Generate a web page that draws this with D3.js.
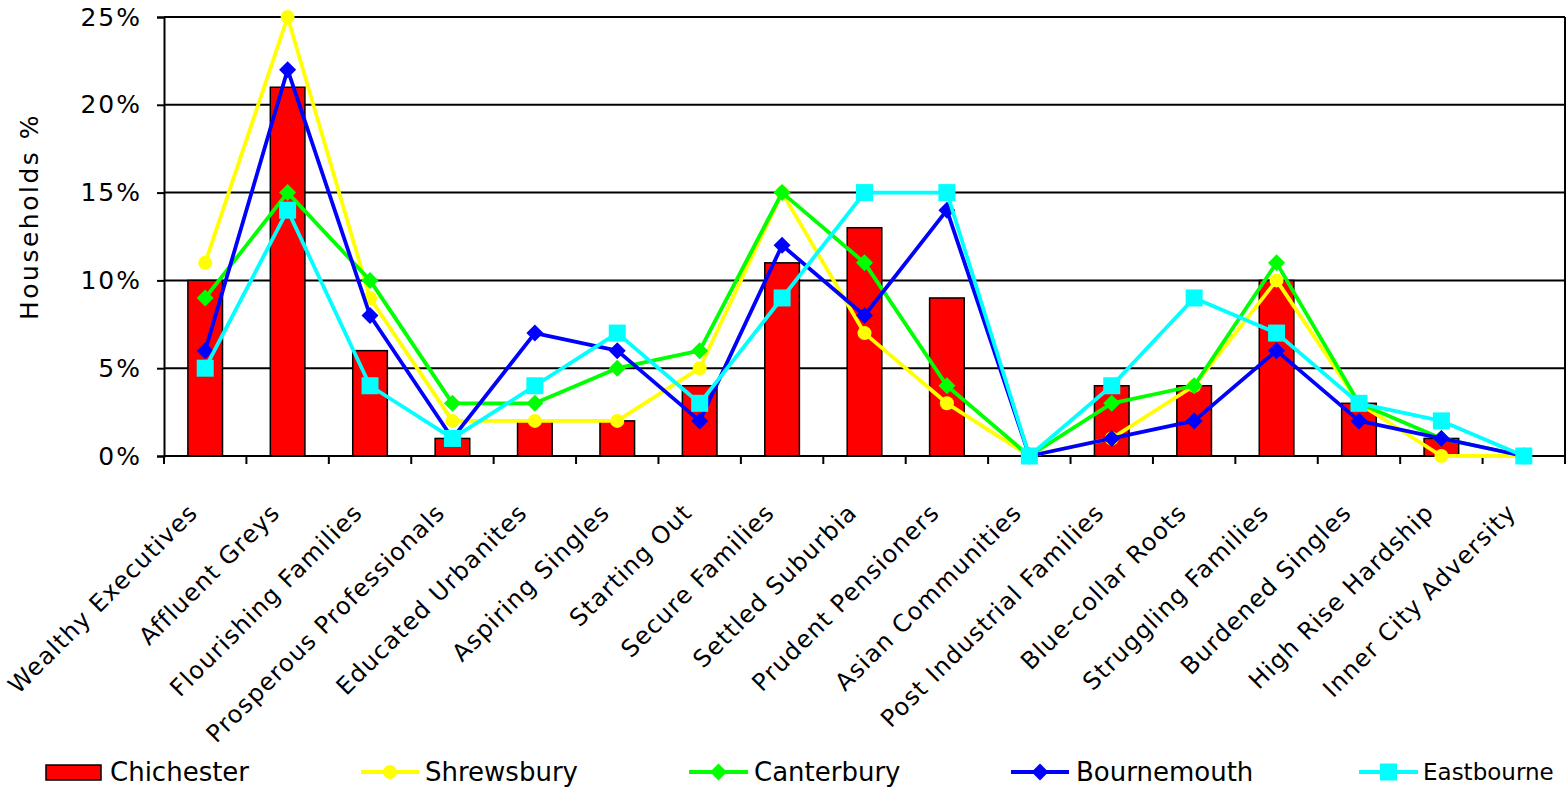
<!DOCTYPE html>
<html>
<head>
<meta charset="utf-8">
<script src="https://cdn.jsdelivr.net/npm/d3@7"></script>
<style>
  html, body { margin: 0; padding: 0; background: #fff; }
  svg { display: block; font-family: "DejaVu Sans", Verdana, sans-serif; }
</style>
</head>
<body>
<svg id="chart" width="1568" height="789"></svg>
<script>
// Household classification groups
const categories = [
  "Wealthy Executives", "Affluent Greys", "Flourishing Families", "Prosperous Professionals",
  "Educated Urbanites", "Aspiring Singles", "Starting Out", "Secure Families",
  "Settled Suburbia", "Prudent Pensioners", "Asian Communities", "Post Industrial Families",
  "Blue-collar Roots", "Struggling Families", "Burdened Singles", "High Rise Hardship",
  "Inner City Adversity"
];

// Share of households (%) per group
const chichester  = [10, 21, 6, 1, 2, 2, 4, 11, 13, 9, 0, 4, 4, 10, 3, 1, 0];
const shrewsbury  = [11, 25, 9, 2, 2, 2, 5, 15, 7, 3, 0, 1, 4, 10, 3, 0, 0];
const canterbury  = [9, 15, 10, 3, 3, 5, 6, 15, 11, 4, 0, 3, 4, 11, 3, 1, 0];
const bournemouth = [6, 22, 8, 1, 7, 6, 2, 12, 8, 14, 0, 1, 2, 6, 2, 1, 0];
const eastbourne  = [5, 14, 4, 1, 4, 7, 3, 9, 15, 15, 0, 4, 9, 7, 3, 2, 0];

const yTicks = [0, 5, 10, 15, 20, 25];

const lineSeries = [
  { name: "Shrewsbury",  values: shrewsbury,  color: "#ffff00", symbol: "circle" },
  { name: "Canterbury",  values: canterbury,  color: "#00ff00", symbol: "diamond" },
  { name: "Bournemouth", values: bournemouth, color: "#0000ff", symbol: "diamond" },
  { name: "Eastbourne",  values: eastbourne,  color: "#00ffff", symbol: "square" }
];

const svg = d3.select("#chart");
const plot = { left: 164, right: 1565, top: 17, bottom: 456 };

const x = d3.scaleBand().domain(categories).range([plot.left, plot.right]).paddingInner(0).paddingOuter(0);
const y = d3.scaleLinear().domain([0, 25]).range([plot.bottom, plot.top]);

// Horizontal gridlines
svg.append("g").selectAll("line").data(yTicks.filter(t => t > 0)).join("line")
  .attr("x1", plot.left).attr("x2", plot.right)
  .attr("y1", d => y(d)).attr("y2", d => y(d))
  .attr("stroke", "#000").attr("stroke-width", 2);

// Right border of the plot area
svg.append("line")
  .attr("x1", plot.right).attr("x2", plot.right)
  .attr("y1", plot.top).attr("y2", plot.bottom)
  .attr("stroke", "#000").attr("stroke-width", 2);

// Chichester bars
const barW = x.bandwidth() * 0.42;
svg.append("g").selectAll("rect").data(categories).join("rect")
  .attr("x", d => x(d) + (x.bandwidth() - barW) / 2)
  .attr("y", (d, i) => y(chichester[i]))
  .attr("width", barW)
  .attr("height", (d, i) => y(0) - y(chichester[i]))
  .attr("fill", "#ff0000").attr("stroke", "#000").attr("stroke-width", 1.5);

// Y axis
const yAxis = d3.axisLeft(y).tickValues(yTicks).tickSize(7).tickPadding(15).tickFormat(d => d + "%");
const gy = svg.append("g").attr("transform", `translate(${plot.left},0)`).call(yAxis);
gy.select(".domain").attr("stroke", "#000").attr("stroke-width", 2);
gy.selectAll(".tick line").attr("stroke", "#000").attr("stroke-width", 2);
gy.selectAll(".tick text").attr("font-size", 25).attr("letter-spacing", 2).attr("fill", "#000")
  .attr("font-family", "DejaVu Sans, Verdana, sans-serif");

// X axis: ticks sit on the category boundaries
const boundaries = d3.range(categories.length + 1).map(i => plot.left + i * x.step());
svg.append("line")
  .attr("x1", plot.left).attr("x2", plot.right)
  .attr("y1", plot.bottom).attr("y2", plot.bottom)
  .attr("stroke", "#000").attr("stroke-width", 2);
svg.append("g").selectAll("line").data(boundaries).join("line")
  .attr("x1", d => d).attr("x2", d => d)
  .attr("y1", plot.bottom).attr("y2", plot.bottom + 8)
  .attr("stroke", "#000").attr("stroke-width", 2);

// Rotated category labels
svg.append("g").selectAll("text").data(categories).join("text")
  .attr("transform", d => `translate(${x(d) + x.bandwidth() / 2 - 12},${plot.bottom + 52}) rotate(-45)`)
  .attr("text-anchor", "end")
  .attr("dy", "0.35em")
  .attr("font-size", 24)
  .attr("letter-spacing", 1.2)
  .attr("fill", "#000")
  .text(d => d);

// Y axis title
svg.append("text")
  .attr("transform", `translate(38,${(plot.top + plot.bottom) / 2 - 20}) rotate(-90)`)
  .attr("text-anchor", "middle")
  .attr("font-size", 25)
  .attr("letter-spacing", 2.5)
  .attr("fill", "#000")
  .text("Households %");

// Marker drawing helper
function drawMarker(g, symbol, color, cx, cy) {
  if (symbol === "circle") {
    g.append("circle").attr("cx", cx).attr("cy", cy).attr("r", 7).attr("fill", color);
  } else if (symbol === "diamond") {
    const s = 8.5;
    g.append("path")
      .attr("d", `M${cx},${cy - s}L${cx + s},${cy}L${cx},${cy + s}L${cx - s},${cy}Z`)
      .attr("fill", color);
  } else {
    const s = 8.5;
    g.append("rect").attr("x", cx - s).attr("y", cy - s).attr("width", 2 * s).attr("height", 2 * s)
      .attr("fill", color);
  }
}

// Line series
const line = d3.line().x((d, i) => x(categories[i]) + x.bandwidth() / 2).y(d => y(d));
lineSeries.forEach(s => {
  const g = svg.append("g");
  g.append("path").datum(s.values).attr("d", line)
    .attr("fill", "none").attr("stroke", s.color).attr("stroke-width", 3.8)
    .attr("stroke-linejoin", "round");
  s.values.forEach((v, i) => drawMarker(g, s.symbol, s.color, x(categories[i]) + x.bandwidth() / 2, y(v)));
});

// Legend
const legendY = 772;
const legend = svg.append("g");
legend.append("rect").attr("x", 46).attr("y", legendY - 7).attr("width", 55).attr("height", 15)
  .attr("fill", "#ff0000").attr("stroke", "#000").attr("stroke-width", 1.5);
legend.append("text").attr("x", 110).attr("y", legendY).attr("dy", "0.35em")
  .attr("font-size", 26).attr("fill", "#000").text("Chichester");

const legendPos = [
  { x0: 361, x1: 419, tx: 425 },
  { x0: 689, x1: 748, tx: 754 },
  { x0: 1011, x1: 1069, tx: 1076 },
  { x0: 1359, x1: 1418, tx: 1423 }
];
lineSeries.forEach((s, i) => {
  const p = legendPos[i];
  legend.append("line").attr("x1", p.x0).attr("x2", p.x1).attr("y1", legendY).attr("y2", legendY)
    .attr("stroke", s.color).attr("stroke-width", 3.8);
  drawMarker(legend, s.symbol, s.color, (p.x0 + p.x1) / 2, legendY);
  const t = legend.append("text").attr("x", p.tx).attr("y", legendY).attr("dy", "0.35em")
    .attr("font-size", 26).attr("fill", "#000").text(s.name);
  // shrink the last entry so it stays inside the page width
  let fs = 26;
  while (t.node().getComputedTextLength() > 1558 - p.tx && fs > 18) {
    fs -= 1;
    t.attr("font-size", fs);
  }
});
</script>
</body>
</html>
